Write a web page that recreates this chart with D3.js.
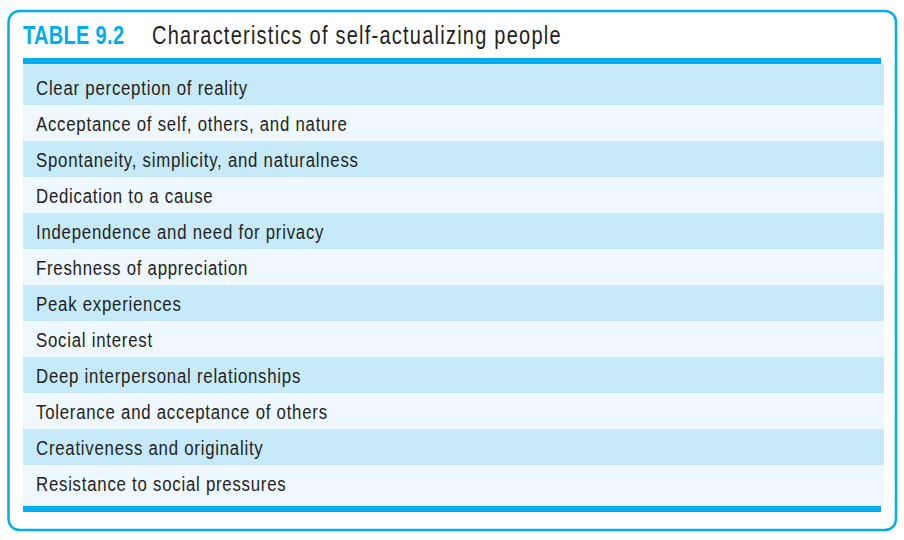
<!DOCTYPE html>
<html>
<head>
<meta charset="utf-8">
<script src="https://cdn.jsdelivr.net/npm/d3@7"></script>
<style>
  body { margin: 0; background: #fff; }
  text { font-family: "Liberation Sans", Arial, sans-serif; }
</style>
</head>
<body>
<div id="canvas"></div>
<script>
const tableNumber = "TABLE 9.2";
const tableTitle = "Characteristics of self-actualizing people";
const rows = [
    "Clear perception of reality",
    "Acceptance of self, others, and nature",
    "Spontaneity, simplicity, and naturalness",
    "Dedication to a cause",
    "Independence and need for privacy",
    "Freshness of appreciation",
    "Peak experiences",
    "Social interest",
    "Deep interpersonal relationships",
    "Tolerance and acceptance of others",
    "Creativeness and originality",
    "Resistance to social pressures"
];

const width = 904;
const height = 540;
const blue = "#00aeef";
const ink = "#231f20";
const pad = 5;      // extra space above the first row and below the last
const squeeze = 0.8; // condensed look: narrow the glyphs horizontally

const canvas = d3.select("#canvas");
const svg = canvas.append("svg")
    .attr("width", width)
    .attr("height", height);

// rounded frame
svg.append("rect")
    .attr("x", 8.5)
    .attr("y", 11)
    .attr("width", 887.5)
    .attr("height", 519)
    .attr("rx", 11)
    .attr("fill", "none")
    .attr("stroke", blue)
    .attr("stroke-width", 2.5);

// title
svg.append("text")
    .attr("transform", `translate(23,44) scale(${squeeze},1)`)
    .attr("font-size", 25)
    .attr("font-weight", "bold")
    .attr("letter-spacing", 0.4)
    .attr("fill", blue)
    .text(tableNumber);

svg.append("text")
    .attr("transform", `translate(152,44) scale(${squeeze},1)`)
    .attr("font-size", 25)
    .attr("letter-spacing", 1.55)
    .attr("fill", ink)
    .text(tableTitle);

const left = 23;
const right = 884;

const y = d3.scaleBand()
    .domain(d3.range(rows.length))
    .range([64 + pad, 506 - pad]);

const g = svg.append("g");

g.selectAll("rect")
    .data(rows)
    .enter().append("rect")
    .attr("x", left)
    .attr("y", (d, i) => i === 0 ? y(i) - pad : y(i))
    .attr("width", right - left)
    .attr("height", (d, i) => y.bandwidth() + (i === 0 || i === rows.length - 1 ? pad : 0))
    .attr("fill", (d, i) => i % 2 === 0 ? "#c7eafb" : "#eff8fe");

g.selectAll("text")
    .data(rows)
    .enter().append("text")
    .attr("transform", (d, i) => `translate(36,${y(i) + y.bandwidth() / 2 + 7.8}) scale(${squeeze},1)`)
    .attr("font-size", 21)
    .attr("letter-spacing", 0.95)
    .attr("fill", ink)
    .text(d => d);

// thick rules above and below the body
svg.selectAll("rect.rule")
    .data([64 - 6, 506])
    .enter().append("rect")
    .attr("class", "rule")
    .attr("x", left)
    .attr("y", d => d)
    .attr("width", 881 - left)
    .attr("height", 6)
    .attr("fill", blue);
</script>
</body>
</html>
